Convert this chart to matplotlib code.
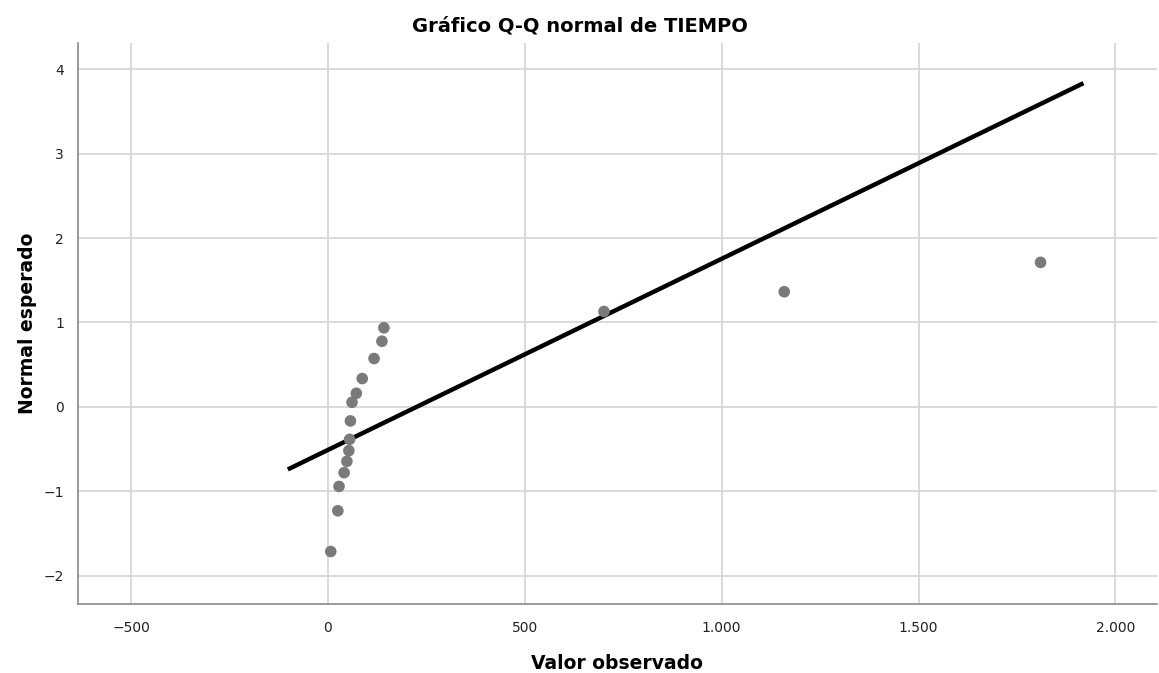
import matplotlib
matplotlib.use("Agg")
import matplotlib.pyplot as plt
from matplotlib.ticker import FuncFormatter
import numpy as np

# Observed values (TIEMPO) and expected normal quantiles
observed = [7, 25, 28, 41, 48, 53, 55, 57, 61, 72, 87, 117, 137, 142, 701, 1159, 1810]
expected = [-1.713, -1.230, -0.942, -0.779, -0.645, -0.518, -0.384, -0.166, 0.055,
            0.161, 0.336, 0.573, 0.778, 0.937, 1.13, 1.364, 1.712]

# Reference line parameters (mean, sd) and its x range
line_mean = 225
line_sd = 441.7
line_x = [-102, 1919]

x_ticks = [-500, 0, 500, 1000, 1500, 2000]
y_ticks = [-2, -1, 0, 1, 2, 3, 4]

title = "Gráfico Q-Q normal de TIEMPO"
xlabel = "Valor observado"
ylabel = "Normal esperado"

plt.rcParams['font.family'] = ['DejaVu Sans']

fig = plt.figure(figsize=(11.59, 6.73), dpi=100)
ax = fig.add_axes([0.0673, 0.1025, 0.9307, 0.8335])

ax.set_xlim(-635, 2105)
ax.set_ylim(-2.335, 4.31)
ax.set_xticks(x_ticks)
ax.set_yticks(y_ticks)
ax.grid(True, color='#d3d3d3', linewidth=1.2)
ax.set_axisbelow(True)

lx = np.array(line_x, dtype=float)
ly = (lx - line_mean) / line_sd
ax.plot(lx, ly, color='black', linewidth=3.2, solid_capstyle='butt', zorder=3)
ax.scatter(observed, expected, s=70, color='#7a7a7a', edgecolors='none', zorder=4)

for s in ['top', 'right']:
    ax.spines[s].set_visible(False)
for s in ['left', 'bottom']:
    ax.spines[s].set_color('#8a8a8a')
    ax.spines[s].set_linewidth(1.2)

def fmt(v, pos):
    s = f"{int(round(v)):,}".replace(",", ".")
    return s.replace("-", "\u2212")

ax.xaxis.set_major_formatter(FuncFormatter(fmt))
ax.yaxis.set_major_formatter(FuncFormatter(fmt))
ax.tick_params(axis='both', length=0, labelsize=10, colors='#222222')
ax.tick_params(axis='x', pad=12)
ax.tick_params(axis='y', pad=10)

fig.text(0.5, 1 - 26 / 673, title, fontsize=14, fontweight='bold', ha='center', va='center')
ax.set_xlabel(xlabel, fontsize=13.5, fontweight='bold', labelpad=14)
ax.set_ylabel(ylabel, fontsize=13.5, fontweight='bold', labelpad=5)

fig.savefig("out.png", dpi=100, facecolor='white')
